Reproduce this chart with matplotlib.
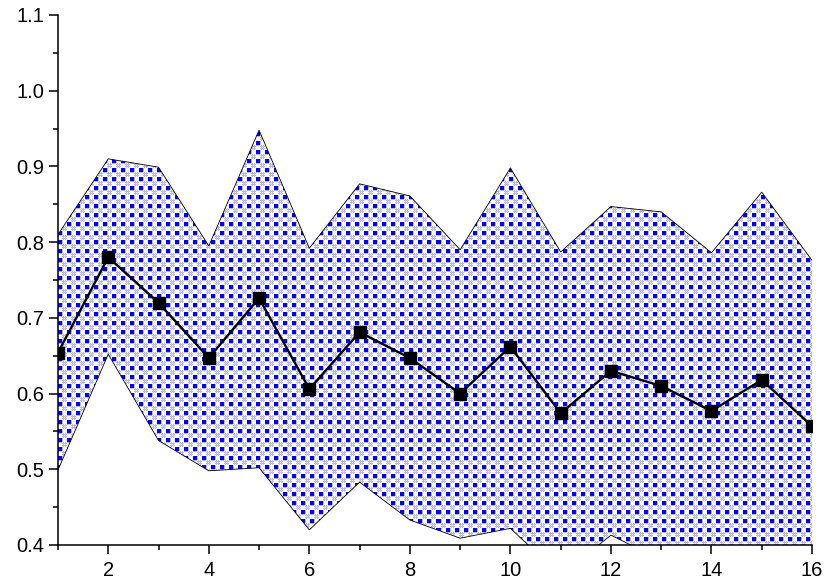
import numpy as np
import matplotlib
matplotlib.use('Agg')
from matplotlib import pyplot as plt
from matplotlib.path import Path
from matplotlib.ticker import MultipleLocator, FormatStrFormatter

x = list(range(1, 17))
mean = [0.654, 0.780, 0.720, 0.647, 0.726, 0.606, 0.681, 0.647,
        0.600, 0.662, 0.574, 0.630, 0.610, 0.577, 0.618, 0.557]
upper = [0.810, 0.910, 0.899, 0.795, 0.948, 0.792, 0.877, 0.861,
         0.790, 0.898, 0.787, 0.847, 0.840, 0.786, 0.866, 0.776]
lower = [0.499, 0.652, 0.538, 0.498, 0.502, 0.420, 0.483, 0.433,
         0.409, 0.422, 0.360, 0.413, 0.380, 0.368, 0.370, 0.338]

plt.rcParams['font.family'] = ['Liberation Sans', 'DejaVu Sans']

fig = plt.figure(figsize=(8.3, 5.87), dpi=100)
W, H = 754, 530
ax = fig.add_axes([58 / 830, 42 / 587, W / 830, H / 587])

# blue check pattern used for the band fill
cell = np.ones((9, 9, 3))
light = np.array([0.72, 0.72, 1.0])
dark = np.array([0.0, 0.0, 1.0])
for r in (5, 7):
    cell[r, 4:9] = light
for c in (5, 7):
    cell[4:9, c] = light
cell[0:4, 4] = light
cell[4, 0:4] = light
cell[0:4, 0:4] = dark
pattern = np.tile(cell, (H // 9 + 2, W // 9 + 2, 1))[:H, :W]

im = ax.imshow(pattern, extent=(1, 16, 0.4, 1.1), aspect='auto',
               interpolation='nearest', zorder=1)
verts = list(zip(x, upper)) + list(zip(x[::-1], lower[::-1]))
band = Path(verts + [verts[0]], closed=True)
im.set_clip_path(band, transform=ax.transData)

ax.plot(x, upper, color='black', lw=0.6, zorder=2)
ax.plot(x, lower, color='black', lw=0.6, zorder=2)
ax.plot(x, mean, color='black', lw=1.7, marker='s', ms=8, zorder=3)

ax.set_xlim(1, 16)
ax.set_ylim(0.4, 1.1)
ax.xaxis.set_major_locator(MultipleLocator(2))
ax.xaxis.set_minor_locator(MultipleLocator(1))
ax.yaxis.set_major_locator(MultipleLocator(0.1))
ax.yaxis.set_minor_locator(MultipleLocator(0.05))
ax.yaxis.set_major_formatter(FormatStrFormatter('%.1f'))
for s in ('top', 'right'):
    ax.spines[s].set_visible(False)
for s in ('left', 'bottom'):
    ax.spines[s].set_linewidth(1.1)
ax.tick_params(which='major', direction='out', length=6.5, width=1.1, labelsize=14.5)
ax.tick_params(which='minor', direction='out', length=3.5, width=1.1)
ax.tick_params(axis='x', which='major', pad=5)

fig.savefig('out.png', dpi=100)
